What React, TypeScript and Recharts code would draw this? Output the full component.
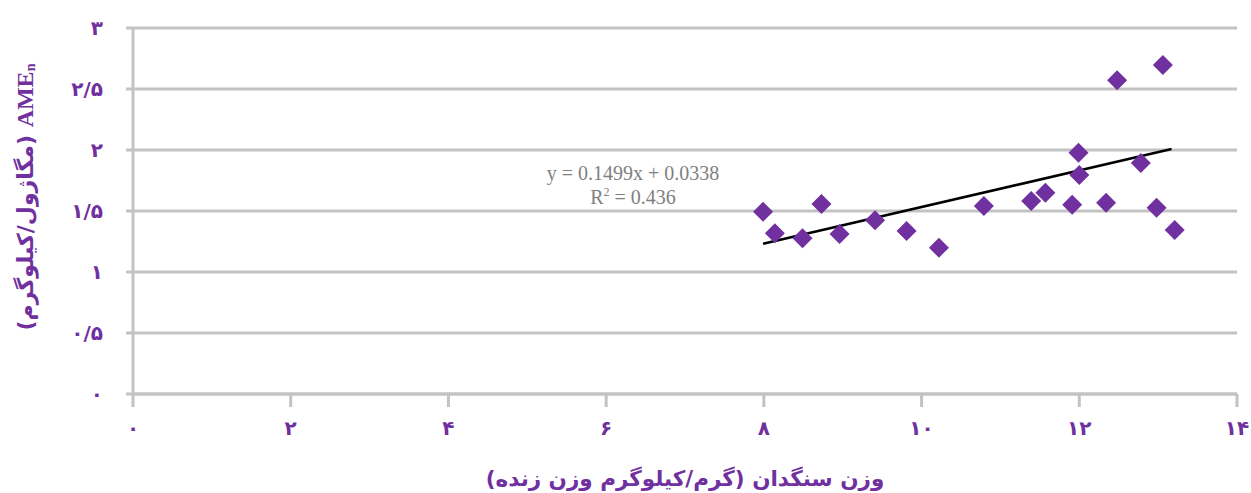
import React from 'react';
import { ScatterChart, Scatter, XAxis, YAxis, CartesianGrid } from 'recharts';

// gizzard weight (g/kg live weight) vs AMEn (MJ/kg)
const gizzardWeight = [7.99, 8.14, 8.49, 8.73, 8.96, 9.41, 9.81, 10.22, 10.79, 11.39, 11.57, 11.91, 11.99, 12.0, 12.34, 12.48, 12.78, 12.98, 13.06, 13.21];
const ameN = [1.494, 1.317, 1.276, 1.557, 1.311, 1.424, 1.336, 1.199, 1.541, 1.582, 1.65, 1.552, 1.978, 1.795, 1.568, 2.571, 1.893, 1.527, 2.697, 1.344];

// trend line endpoints (y = 0.1499x + 0.0338)
const trendX = [7.99, 13.17];
const trendY = [1.231, 2.008];

const xTicks = [0, 2, 4, 6, 8, 10, 12, 14];
const yTicks = [0, 0.5, 1, 1.5, 2, 2.5, 3];

const points = gizzardWeight.map((x, i) => ({ x, y: ameN[i] }));
const trend = trendX.map((x, i) => ({ x, y: trendY[i] }));

const PURPLE = '#7030a0';
const GRID = '#c3c3c3';
const FA_FONT = '"DejaVu Sans", sans-serif';

const toFa = (n: number) =>
  String(n).replace('.', '/').replace(/\d/g, (d) => '۰۱۲۳۴۵۶۷۸۹'[+d]);

const Diamond = (props: any) => {
  const { cx, cy } = props;
  const r = 10;
  return (
    <polygon
      points={`${cx},${cy - r} ${cx + r},${cy} ${cx},${cy + r} ${cx - r},${cy}`}
      fill={PURPLE}
    />
  );
};

const YTick = (props: any) => {
  const { x, y, payload } = props;
  return (
    <text x={x} y={y} dy={7} textAnchor="end" fill={PURPLE} fontFamily={FA_FONT} fontWeight="bold" fontSize={20}>
      {toFa(payload.value)}
    </text>
  );
};

const XTick = (props: any) => {
  const { x, y, payload } = props;
  return (
    <text x={x} y={y} dy={20} textAnchor="middle" fill={PURPLE} fontFamily={FA_FONT} fontWeight="bold" fontSize={20}>
      {toFa(payload.value)}
    </text>
  );
};

const YTitle = () => (
  <text
    x={25}
    y={197}
    transform="rotate(-90 25 197)"
    textAnchor="middle"
    dominantBaseline="central"
    fill={PURPLE}
    fontWeight="bold"
    fontSize={22}
  >
    <tspan fontFamily={FA_FONT}>(مگاژول/کیلوگرم) </tspan>
    <tspan fontFamily='"Liberation Serif", serif' fontSize={24}>AME</tspan>
    <tspan fontFamily='"Liberation Serif", serif' fontSize={14} dy={5}>n</tspan>
  </text>
);

const XTitle = () => (
  <text
    x={685}
    y={478}
    textAnchor="middle"
    dominantBaseline="central"
    direction="rtl"
    style={{ direction: 'rtl', unicodeBidi: 'embed' }}
    fill={PURPLE}
    fontFamily={FA_FONT}
    fontWeight="bold"
    fontSize={21.5}
  >
    وزن سنگدان (گرم/کیلوگرم وزن زنده)
  </text>
);

export default function App() {
  return (
    <div style={{ position: 'absolute', left: 0, top: 0, width: 1251, height: 493, background: '#fff' }}>
      <ScatterChart width={1251} height={493} margin={{ top: 28, right: 14, left: 0, bottom: 0 }}>
        <CartesianGrid vertical={false} stroke={GRID} strokeWidth={3} />
        <XAxis
          type="number"
          dataKey="x"
          domain={[0, 14]}
          ticks={xTicks}
          height={99}
          tickSize={13}
          tickMargin={8}
          stroke={GRID}
          axisLine={{ stroke: GRID, strokeWidth: 3 }}
          tickLine={{ stroke: GRID, strokeWidth: 3 }}
          tick={<XTick />}
          label={<XTitle />}
        />
        <YAxis
          type="number"
          dataKey="y"
          domain={[0, 3]}
          ticks={yTicks}
          width={133}
          tickSize={7}
          tickMargin={23}
          stroke={GRID}
          axisLine={{ stroke: GRID, strokeWidth: 3 }}
          tickLine={{ stroke: GRID, strokeWidth: 3 }}
          tick={<YTick />}
          label={<YTitle />}
        />
        <Scatter
          data={trend}
          line={{ stroke: '#000', strokeWidth: 2.5 }}
          shape={() => <g />}
          isAnimationActive={false}
        />
        <Scatter data={points} shape={<Diamond />} isAnimationActive={false} />
      </ScatterChart>
      <div
        style={{
          position: 'absolute',
          left: 533,
          top: 161,
          width: 200,
          textAlign: 'center',
          fontFamily: '"Liberation Serif", serif',
          fontSize: 20,
          lineHeight: '24px',
          color: '#7f7f7f',
        }}
      >
        <div>y = 0.1499x + 0.0338</div>
        <div>
          R<sup style={{ fontSize: 12, lineHeight: 0 }}>2</sup> = 0.436
        </div>
      </div>
    </div>
  );
}
